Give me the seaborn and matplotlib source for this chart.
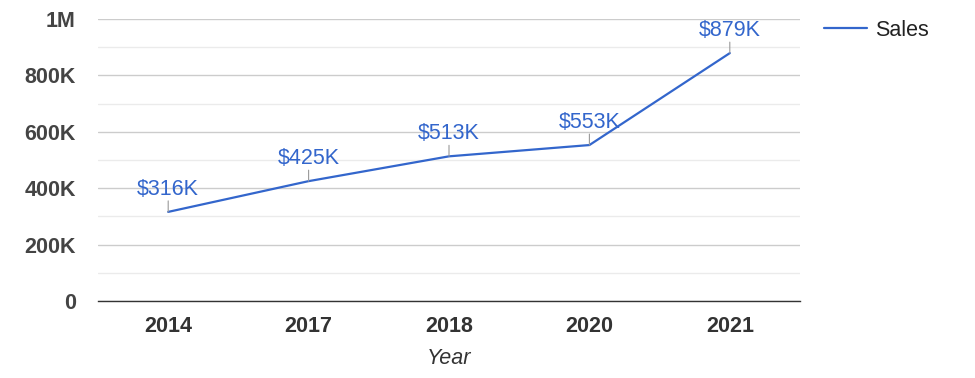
import numpy as np
import pandas as pd
import seaborn as sns
import matplotlib.pyplot as plt
from matplotlib.ticker import MultipleLocator, FuncFormatter

sns.set_theme(style="white")
plt.rcParams['font.family'] = ['Liberation Sans', 'DejaVu Sans']

# data
years = ["2014", "2017", "2018", "2020", "2021"]
sales = [316000, 425000, 513000, 553000, 879000]
labels = ["$316K", "$425K", "$513K", "$553K", "$879K"]

blue = "#3366CC"
df = pd.DataFrame({"Year": years, "Sales": sales})

fig = plt.figure(figsize=(9.75, 3.78), dpi=100)
ax = fig.add_axes([98 / 975, 1 - 301 / 378, 702 / 975, 282 / 378])

sns.lineplot(data=df, x="Year", y="Sales", color=blue, lw=1.6, ax=ax, label="Sales")

# point labels with short leader lines
for i, (v, lab) in enumerate(zip(sales, labels)):
    ax.annotate("", xy=(i, v), xytext=(0, 11), textcoords="offset pixels",
                arrowprops=dict(arrowstyle="-", color="#999999", lw=0.8,
                                shrinkA=0, shrinkB=0))
    ax.annotate(lab, xy=(i, v), xytext=(0, 12), textcoords="offset pixels",
                ha="center", va="bottom", color=blue, fontsize=15.5)

ax.set_xlim(-0.5, len(years) - 0.5)
ax.set_ylim(0, 1000000)
ax.yaxis.set_major_locator(MultipleLocator(200000))
ax.yaxis.set_minor_locator(MultipleLocator(100000))


def kfmt(v, pos):
    if v == 0:
        return "0"
    if v >= 1000000:
        return f"{v / 1000000:g}M"
    return f"{v / 1000:g}K"


ax.yaxis.set_major_formatter(FuncFormatter(kfmt))
ax.grid(axis="y", which="major", color="#cccccc", lw=1)
ax.grid(axis="y", which="minor", color="#ebebeb", lw=1)
ax.grid(axis="x", visible=False)
ax.set_axisbelow(True)

for s in ["top", "right", "left"]:
    ax.spines[s].set_visible(False)
ax.spines["bottom"].set_color("#333333")
ax.spines["bottom"].set_linewidth(1)

ax.tick_params(axis="y", which="both", length=0, pad=16, labelsize=15.5, labelcolor="#444444")
ax.tick_params(axis="x", length=0, pad=11, labelsize=15.5, labelcolor="#333333")
for t in ax.get_xticklabels() + ax.get_yticklabels():
    t.set_fontweight("bold")

ax.set_ylabel("")
ax.set_xlabel("Year", fontsize=15.5, style="italic", color="#333333", labelpad=8)

leg = ax.legend(loc="center left", bbox_to_anchor=(815 / 975, 1 - 30 / 378),
                bbox_transform=fig.transFigure, frameon=False, fontsize=15.5,
                handlelength=2.0, handletextpad=0.4, borderaxespad=0)
for t in leg.get_texts():
    t.set_color("#222222")

fig.savefig("out.png", dpi=100)
